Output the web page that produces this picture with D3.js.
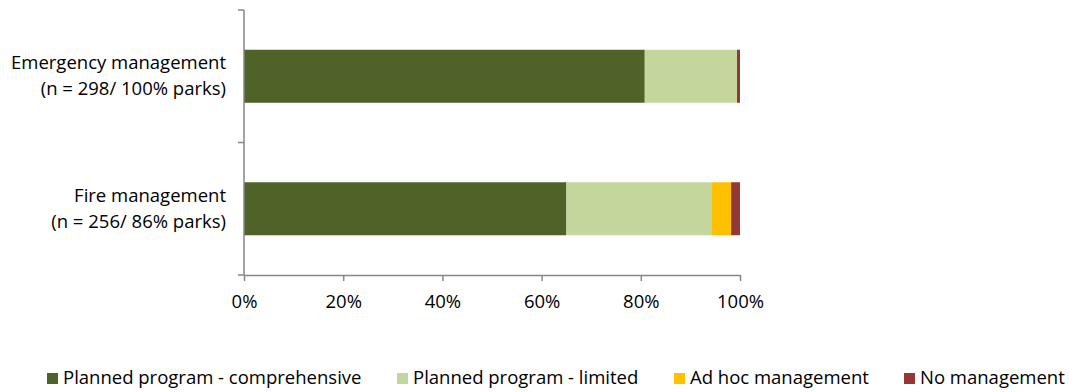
<!DOCTYPE html>
<html>
<head>
<meta charset="utf-8">
<script src="https://cdn.jsdelivr.net/npm/d3@7"></script>
<style>
  html, body { margin: 0; padding: 0; background: #ffffff; }
  svg { display: block; font-family: "Open Sans", "Noto Sans", sans-serif; }
</style>
</head>
<body>
<svg id="chart" width="1069" height="392"></svg>
<script>
// Management program categories (top to bottom)
const categories = ["Emergency management", "Fire management"];
const categorySub = ["(n = 298/ 100% parks)", "(n = 256/ 86% parks)"];

// Share of parks (%) in each management level
const comprehensive = [80.8, 65.0];
const limited       = [18.6, 29.2];
const adHoc         = [0.0, 4.0];
const noManagement  = [0.6, 1.8];

const seriesNames  = ["Planned program - comprehensive", "Planned program - limited", "Ad hoc management", "No management"];
const seriesColors = ["#4f6228", "#c3d69b", "#ffc000", "#953735"];
const tickValues   = [0, 20, 40, 60, 80, 100];

const svg = d3.select("#chart");
const margin = { left: 244, right: 329, top: 10, bottom: 117 };
const W = 1069, H = 392;
const fontSize = 18.5;

const x = d3.scaleLinear().domain([0, 100]).range([margin.left, W - margin.right]);
const y = d3.scaleBand().domain(categories).range([margin.top, H - margin.bottom]).paddingInner(0.6).paddingOuter(0.3);

// Stack the four series per category
const rows = categories.map((c, i) => ({
  cat: c,
  s0: comprehensive[i], s1: limited[i], s2: adHoc[i], s3: noManagement[i]
}));
const stack = d3.stack().keys(["s0", "s1", "s2", "s3"]);
const layers = stack(rows);

svg.append("g").selectAll("g")
  .data(layers)
  .join("g")
  .attr("fill", (d, i) => seriesColors[i])
  .selectAll("rect")
  .data(d => d)
  .join("rect")
  .attr("x", d => x(d[0]))
  .attr("width", d => x(d[1]) - x(d[0]))
  .attr("y", d => y(d.data.cat))
  .attr("height", y.bandwidth());

const axisColor = "#868686";

// X axis
const xAxis = svg.append("g")
  .attr("transform", `translate(0,${H - margin.bottom})`)
  .call(d3.axisBottom(x).tickValues(tickValues).tickFormat(d => d + "%").tickSize(6).tickSizeOuter(0));
xAxis.select(".domain").attr("stroke", axisColor).attr("stroke-width", 1.5);
xAxis.selectAll(".tick line").attr("stroke", axisColor).attr("stroke-width", 1.5);
xAxis.selectAll(".tick text").attr("fill", "#000").attr("font-size", fontSize).attr("dy", "1.3em")
  .attr("font-family", "Open Sans, sans-serif");

// Y axis line with category-boundary ticks
const yTop = margin.top, yBot = H - margin.bottom;
const g = svg.append("g");
g.append("line").attr("x1", x(0)).attr("x2", x(0)).attr("y1", yTop).attr("y2", yBot)
  .attr("stroke", axisColor).attr("stroke-width", 1.5);
const boundaries = [yTop, (yTop + yBot) / 2, yBot];
g.selectAll(".yt").data(boundaries).join("line")
  .attr("x1", x(0) - 6).attr("x2", x(0)).attr("y1", d => d).attr("y2", d => d)
  .attr("stroke", axisColor).attr("stroke-width", 1.5);

// Category labels (two lines, right aligned)
const labels = svg.append("g").attr("font-size", fontSize).attr("text-anchor", "end").attr("fill", "#000");
categories.forEach((c, i) => {
  const cy = y(c) + y.bandwidth() / 2;
  const t = labels.append("text").attr("x", 226).attr("y", cy);
  t.append("tspan").attr("x", 226).attr("dy", -7).text(c);
  t.append("tspan").attr("x", 226).attr("dy", 26).text(categorySub[i]);
});

// Legend
const legendX = [47, 397, 674, 904];
const legend = svg.append("g").attr("font-size", fontSize);
seriesNames.forEach((n, i) => {
  const lg = legend.append("g").attr("transform", `translate(${legendX[i]},0)`);
  lg.append("rect").attr("x", 0).attr("y", 373).attr("width", 11).attr("height", 11).attr("fill", seriesColors[i]);
  lg.append("text").attr("x", 16).attr("y", 384).text(n);
});
</script>
</body>
</html>
